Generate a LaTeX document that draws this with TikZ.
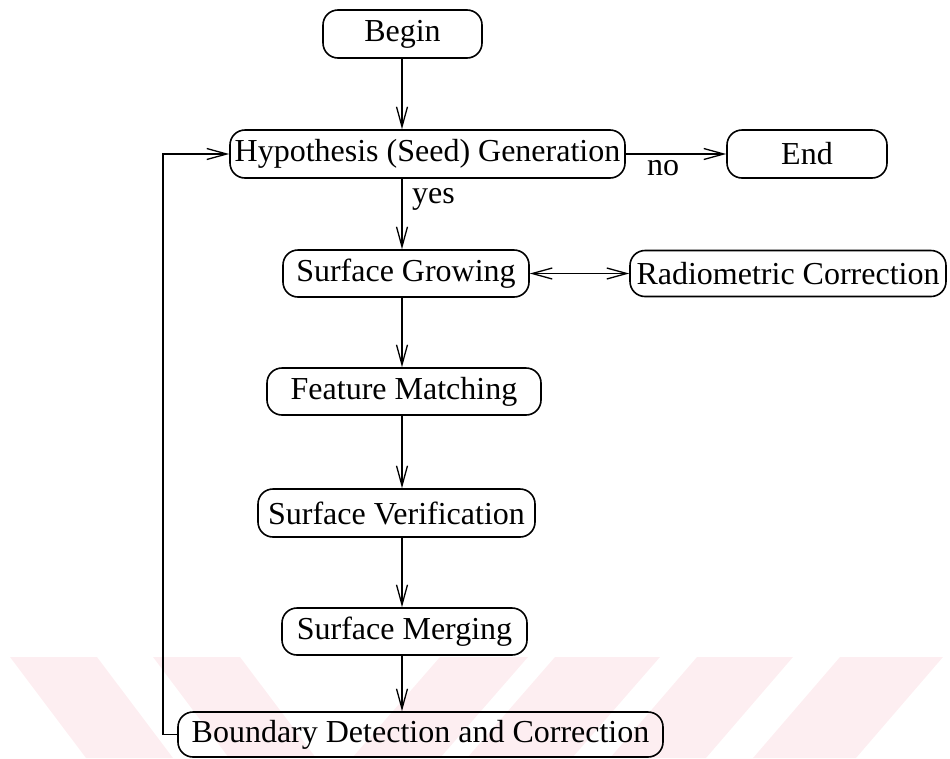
\documentclass[tikz,border=0pt]{standalone}
\usepackage{fontspec}
\setmainfont{Liberation Serif}
\usetikzlibrary{arrows.meta}
\definecolor{wmpink}{RGB}{253,238,241}
\tikzset{
  box/.style={draw, line width=1.6pt, rounded corners=15pt, inner sep=0pt,
    font=\fontsize{32}{36}\selectfont},
  conn/.style={line width=1.3pt, -{Straight Barb[length=20pt,width=11pt,line width=1.3pt]}},
  dconn/.style={line width=1.3pt, {Straight Barb[length=20pt,width=11pt,line width=1.3pt]}-{Straight Barb[length=20pt,width=11pt,line width=1.3pt]}},
  lbl/.style={font=\fontsize{32}{36}\selectfont, inner sep=0pt},
  wm/.style={fill=wmpink, draw=none}
}
\begin{document}
\begin{tikzpicture}[x=1pt,y=-1pt]
\useasboundingbox (0,0) rectangle (950,758);
% watermark
\fill[wm] (10,657) -- (97,657) -- (173,758) -- (86,758) -- cycle;
\fill[wm] (153,657) -- (240,657) -- (316,758) -- (229,758) -- cycle;
\fill[wm] (440,657) -- (528,657) -- (440,758) -- (352,758) -- cycle;
\fill[wm] (555,657) -- (660,657) -- (572,758) -- (467,758) -- cycle;
\fill[wm] (697,657) -- (793,657) -- (706,758) -- (610,758) -- cycle;
\fill[wm] (840,657) -- (943,657) -- (856,758) -- (753,758) -- cycle;

\coordinate (spine) at (402,0);
\node[box, minimum width=159pt, minimum height=48pt] (begin) at (402.5,34) {Begin};
\node[box, minimum width=395pt, minimum height=48pt] (hyp) at (427.5,154) {Hypothesis (Seed) Generation};
\node[box, minimum width=160pt, minimum height=48pt] (end) at (807,154) {End};
\node[box, minimum width=246pt, minimum height=47pt] (sg) at (406,273.5) {Surface Growing};
\node[box, minimum width=316pt, minimum height=46pt] (rc) at (788,273.5) {Radiometric Correction};
\node[box, minimum width=274pt, minimum height=47pt] (fm) at (404,391.5) {Feature Matching};
\node[box, minimum width=277pt, minimum height=48pt] (sv) at (396.5,513) {Surface Verification};
\node[box, minimum width=245pt, minimum height=47pt] (sm) at (404.5,631.5) {Surface Merging};
\node[box, minimum width=485pt, minimum height=45pt] (bd) at (420.5,734.5) {Boundary Detection and Correction};

\draw[conn] (spine |- begin.south) -- (spine |- hyp.north);
\draw[conn] (spine |- hyp.south) -- (spine |- sg.north);
\node[lbl, anchor=north west] (yes) at (412,188) {yes};
\draw[conn] (hyp.east) -- (end.west);
\node[lbl, anchor=north] (no) at (663,160) {no};
\draw[dconn] (sg.east) -- (sg.east -| rc.west);
\draw[conn] (spine |- sg.south) -- (spine |- fm.north);
\draw[conn] (spine |- fm.south) -- (spine |- sv.north);
\draw[conn] (spine |- sv.south) -- (spine |- sm.north);
\draw[conn] (spine |- sm.south) -- (spine |- bd.north);
\coordinate (fb) at (163,0);
\draw[conn] (bd.west) -- (fb |- bd.west) -- (fb |- hyp.west) -- (hyp.west);
\end{tikzpicture}
\end{document}
